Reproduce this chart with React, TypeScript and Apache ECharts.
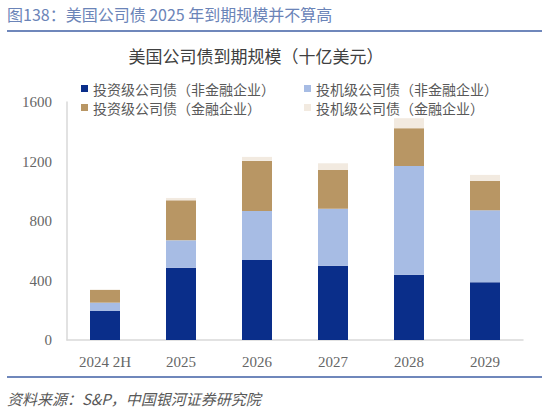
import { useRef, useEffect } from 'react'
import * as echarts from 'echarts'

// 类目与数据（十亿美元）
const CATEGORIES = ['2024 2H', '2025', '2026', '2027', '2028', '2029']
const IG_NONFIN = [195, 486, 538, 500, 439, 388]
const HY_NONFIN = [56, 184, 329, 383, 731, 484]
const IG_FIN = [85, 269, 337, 260, 254, 197]
const HY_FIN = [4, 16, 27, 45, 67, 41]

const NAMES = [
  '投资级公司债（非金融企业）',
  '投机级公司债（非金融企业）',
  '投资级公司债（金融企业）',
  '投机级公司债（金融企业）',
]
const COLORS = ['#0a2e8a', '#a7bce4', '#b89664', '#f2eae0']

const CJK = '"Noto Sans CJK SC", sans-serif'
const SERIF = '"Liberation Serif", "Times New Roman", serif'

// 图例位置：两列两行
const LEGEND_POS = [
  { left: 81, top: 81 },
  { left: 304, top: 81 },
  { left: 81, top: 100 },
  { left: 304, top: 100 },
]

function buildOption() {
  const values = [IG_NONFIN, HY_NONFIN, IG_FIN, HY_FIN]
  return {
    animation: false,
    backgroundColor: '#ffffff',
    title: {
      text: '美国公司债到期规模（十亿美元）',
      left: 251,
      top: 42,
      textAlign: 'center',
      textStyle: { fontSize: 17, fontWeight: 'normal', color: '#404040', fontFamily: CJK },
    },
    legend: NAMES.map((name, i) => ({
      data: [name],
      left: LEGEND_POS[i].left,
      top: LEGEND_POS[i].top,
      padding: 0,
      itemWidth: 7,
      itemHeight: 7,
      itemGap: 0,
      icon: 'rect',
      textStyle: { fontSize: 14, lineHeight: 15, color: '#595959', fontFamily: CJK },
    })),
    grid: { left: 67, right: 27, top: 102, bottom: 77, containLabel: false },
    xAxis: {
      type: 'category',
      data: CATEGORIES,
      axisLine: { lineStyle: { color: '#d9d9d9', width: 1.5 } },
      axisTick: { show: false },
      axisLabel: { fontSize: 15, color: '#666666', fontFamily: SERIF, margin: 14 },
    },
    yAxis: {
      type: 'value',
      min: 0,
      max: 1600,
      interval: 400,
      axisLine: { show: true, lineStyle: { color: '#d9d9d9', width: 1.5 } },
      axisTick: { show: false },
      splitLine: { show: false },
      axisLabel: {
        fontSize: 15,
        color: '#666666',
        fontFamily: SERIF,
        margin: 15,
        formatter: (v: number) => String(v),
      },
    },
    series: values.map((v, i) => ({
      name: NAMES[i],
      type: 'bar',
      stack: 'total',
      data: v,
      barWidth: 30,
      itemStyle: { color: COLORS[i] },
    })),
    graphic: [
      {
        type: 'text',
        left: 7,
        top: 6,
        style: {
          text: '图138：美国公司债 2025 年到期规模并不算高',
          fontSize: 16,
          fill: '#6b84b8',
          fontFamily: CJK,
        },
      },
      {
        type: 'line',
        shape: { x1: 7, y1: 31, x2: 542, y2: 31 },
        style: { stroke: '#6f87bb', lineWidth: 2 },
      },
      {
        type: 'line',
        shape: { x1: 7, y1: 377, x2: 542, y2: 377 },
        style: { stroke: '#6f87bb', lineWidth: 2 },
      },
      {
        type: 'text',
        left: 7,
        top: 391,
        style: {
          text: '资料来源：S&P，中国银河证券研究院',
          fontSize: 15,
          fontStyle: 'italic',
          fill: '#595959',
          fontFamily: CJK,
        },
      },
    ],
  }
}

export default function App() {
  const chartDom = useRef<HTMLDivElement>(null)

  useEffect(() => {
    if (!chartDom.current) return
    const chart = echarts.init(chartDom.current, null, { renderer: 'svg' })
    chart.setOption(buildOption())
    return () => chart.dispose()
  }, [])

  return (
    <div
      ref={chartDom}
      style={{ position: 'absolute', left: 0, top: 0, width: 550, height: 417, background: '#fff' }}
    />
  )
}
